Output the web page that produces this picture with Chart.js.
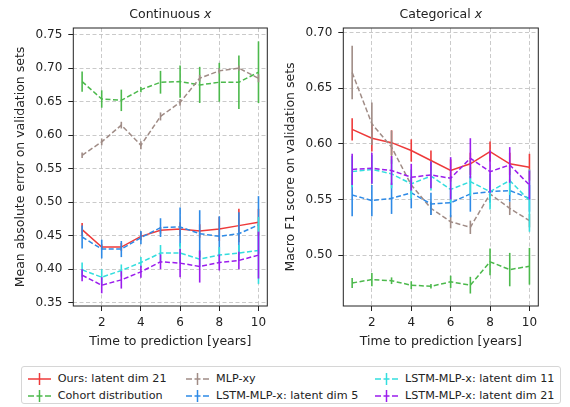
<!DOCTYPE html>
<html>
<head>
<meta charset="utf-8">
<script src="https://cdn.jsdelivr.net/npm/chart.js@4.4.0/dist/chart.umd.min.js"></script>
<style>
body { margin: 0; width: 570px; height: 407px; background: #fff; position: relative; overflow: hidden; font-family: 'DejaVu Sans'; }
#c1 { position: absolute; left: 0; top: 0; }
#c2 { position: absolute; left: 280px; top: 0; }
.legend { position: absolute; left: 21px; top: 366px; width: 538px; height: 36px; border: 1px solid #d6d6d6; border-radius: 3px; font-size: 11.2px; color: #222; }
.item { position: absolute; height: 16px; line-height: 16px; white-space: nowrap; }
.item svg { position: absolute; left: 0; top: 0; }
.item span { position: absolute; left: 30px; top: 0; }
</style>
</head>
<body>
<canvas id="c1" width="280" height="360"></canvas>
<canvas id="c2" width="290" height="360"></canvas>
<div class="legend" id="legend"></div>
<script>
var years = [1, 2, 3, 4, 5, 6, 7, 8, 9, 10];
var xTicks = [2, 4, 6, 8, 10];
var maeTicks = [0.35, 0.40, 0.45, 0.50, 0.55, 0.60, 0.65, 0.70, 0.75];
var f1Ticks = [0.50, 0.55, 0.60, 0.65, 0.70];

var names = ['Ours: latent dim 21', 'Cohort distribution', 'MLP-xy',
    'LSTM-MLP-x: latent dim 5', 'LSTM-MLP-x: latent dim 11', 'LSTM-MLP-x: latent dim 21'];
var colors = ['#ee3a3a', '#4cb94c', '#a08c86', '#2e8ae6', '#33dede', '#9b1ded'];

// continuous x - mean absolute error
var oursMae = [0.459, 0.433, 0.433, 0.449, 0.458, 0.460, 0.457, 0.460, 0.465, 0.470];
var oursMaeErr = [0.010, 0.004, 0.006, 0.006, 0.005, 0.010, 0.010, 0.018, 0.025, 0.020];
var cohortMae = [0.680, 0.654, 0.652, 0.668, 0.679, 0.680, 0.675, 0.679, 0.679, 0.694];
var cohortMaeErr = [0.015, 0.013, 0.016, 0.004, 0.017, 0.024, 0.027, 0.029, 0.040, 0.046];
var mlpMae = [0.570, 0.590, 0.615, 0.585, 0.628, 0.649, 0.685, 0.696, 0.700, 0.685];
var mlpMaeErr = [0.004, 0.005, 0.005, 0.006, 0.006, 0.005, 0.005, 0.004, 0.004, 0.006];
var lstm5Mae = [0.448, 0.430, 0.430, 0.447, 0.462, 0.463, 0.453, 0.449, 0.453, 0.466];
var lstm5MaeErr = [0.017, 0.014, 0.012, 0.010, 0.014, 0.029, 0.035, 0.030, 0.032, 0.043];
var lstm11Mae = [0.399, 0.388, 0.398, 0.410, 0.424, 0.424, 0.415, 0.421, 0.424, 0.428];
var lstm11MaeErr = [0.011, 0.012, 0.009, 0.008, 0.012, 0.015, 0.012, 0.012, 0.012, 0.050];
var lstm21Mae = [0.391, 0.376, 0.384, 0.396, 0.411, 0.409, 0.404, 0.410, 0.413, 0.421];
var lstm21MaeErr = [0.009, 0.012, 0.013, 0.009, 0.011, 0.021, 0.024, 0.012, 0.013, 0.035];

// categorical x - macro F1
var oursF1 = [0.613, 0.605, 0.601, 0.594, 0.585, 0.576, 0.582, 0.593, 0.582, 0.579];
var oursF1Err = [0.010, 0.012, 0.011, 0.010, 0.009, 0.010, 0.010, 0.009, 0.010, 0.012];
var cohortF1 = [0.475, 0.478, 0.477, 0.473, 0.472, 0.476, 0.473, 0.494, 0.487, 0.490];
var cohortF1Err = [0.0045, 0.006, 0.003, 0.0035, 0.002, 0.0055, 0.0075, 0.012, 0.015, 0.0165];
var mlpF1 = [0.664, 0.618, 0.597, 0.563, 0.542, 0.530, 0.525, 0.555, 0.542, 0.531];
var mlpF1Err = [0.024, 0.019, 0.015, 0.006, 0.006, 0.006, 0.006, 0.006, 0.006, 0.006];
var lstm5F1 = [0.554, 0.549, 0.551, 0.556, 0.546, 0.547, 0.555, 0.557, 0.558, 0.551];
var lstm5F1Err = [0.019, 0.014, 0.014, 0.014, 0.010, 0.013, 0.016, 0.010, 0.010, 0.012];
var lstm11F1 = [0.575, 0.577, 0.573, 0.564, 0.571, 0.559, 0.566, 0.557, 0.567, 0.549];
var lstm11F1Err = [0.014, 0.013, 0.013, 0.013, 0.013, 0.012, 0.013, 0.016, 0.013, 0.028];
var lstm21F1 = [0.577, 0.578, 0.576, 0.570, 0.572, 0.569, 0.587, 0.575, 0.581, 0.563];
var lstm21F1Err = [0.014, 0.014, 0.013, 0.012, 0.012, 0.019, 0.018, 0.019, 0.016, 0.013];

Chart.defaults.font.family = 'DejaVu Sans';
Chart.defaults.color = '#222';

// vertical error bars, drawn with each dataset
var errorBars = {
    id: 'errorBars',
    afterDatasetDraw: function (chart, args) {
        var ds = chart.data.datasets[args.index];
        if (!ds.err) return;
        var ctx = chart.ctx, xs = chart.scales.x, ys = chart.scales.y;
        ctx.save();
        ctx.strokeStyle = ds.borderColor;
        ctx.lineWidth = 1.6;
        ds.data.forEach(function (p, i) {
            var px = xs.getPixelForValue(p.x);
            ctx.beginPath();
            ctx.moveTo(px, ys.getPixelForValue(p.y - ds.err[i]));
            ctx.lineTo(px, ys.getPixelForValue(p.y + ds.err[i]));
            ctx.stroke();
        });
        ctx.restore();
    }
};

// box around plot + title with italic x
var frame = {
    id: 'frame',
    afterDraw: function (chart, args, opts) {
        var a = chart.chartArea, ctx = chart.ctx;
        ctx.save();
        ctx.strokeStyle = '#222';
        ctx.lineWidth = 1;
        ctx.strokeRect(a.left, a.top, a.right - a.left, a.bottom - a.top);
        ctx.fillStyle = '#222';
        ctx.textBaseline = 'middle';
        ctx.font = '12.5px "DejaVu Sans"';
        var w1 = ctx.measureText(opts.text).width;
        ctx.font = 'italic 12.5px "DejaVu Sans"';
        var w2 = ctx.measureText('x').width;
        var x0 = (a.left + a.right) / 2 - (w1 + w2) / 2;
        ctx.font = '12.5px "DejaVu Sans"';
        ctx.fillText(opts.text, x0, 15);
        ctx.font = 'italic 12.5px "DejaVu Sans"';
        ctx.fillText('x', x0 + w1, 15);
        ctx.restore();
    }
};

function makeSets(values, errs) {
    return values.map(function (v, k) {
        return {
            label: names[k],
            data: years.map(function (y, i) { return {x: y, y: v[i]}; }),
            err: errs[k],
            borderColor: colors[k],
            backgroundColor: colors[k],
            borderWidth: 1.5,
            borderDash: k == 0 ? [] : [5, 2.5],
            pointRadius: 0,
            tension: 0,
            order: 6 - k
        };
    });
}

function makeChart(id, sets, yMin, yMax, yTicks, yLabel, title, yWidth, padRight, yTitlePad) {
    var grid = {
        color: '#bdbdbd',
        lineWidth: 0.8,
        tickLength: 5,
        tickColor: '#222',
        tickWidth: 1,
        tickBorderDash: []
    };
    return new Chart(document.getElementById(id), {
        type: 'line',
        data: {datasets: sets},
        plugins: [errorBars, frame],
        options: {
            responsive: false,
            animation: false,
            events: [],
            layout: {padding: {left: 0, right: padRight, top: 28, bottom: 0}},
            plugins: {
                legend: {display: false},
                tooltip: {enabled: false},
                frame: {text: title + ' '}
            },
            scales: {
                x: {
                    type: 'linear',
                    min: 0.55,
                    max: 10.45,
                    afterBuildTicks: function (s) { s.ticks = xTicks.map(function (v) { return {value: v}; }); },
                    afterFit: function (s) { s.height = 54; },
                    ticks: {font: {size: 12}, padding: 4.8, maxRotation: 0, callback: function (v) { return v; }},
                    grid: grid,
                    border: {display: false, dash: [4, 2.5]},
                    title: {display: true, text: 'Time to prediction [years]', font: {size: 12.5}, padding: {top: 0, bottom: 10.8}}
                },
                y: {
                    type: 'linear',
                    min: yMin,
                    max: yMax,
                    afterBuildTicks: function (s) { s.ticks = yTicks.map(function (v) { return {value: v}; }); },
                    afterFit: function (s) { s.width = yWidth; },
                    ticks: {font: {size: 12}, padding: 6, callback: function (v) { return v.toFixed(2); }},
                    grid: grid,
                    border: {display: false, dash: [4, 2.5]},
                    title: {display: true, text: yLabel, font: {size: 12.5}, padding: {top: yTitlePad, bottom: 0}}
                }
            }
        }
    });
}

makeChart('c1',
    makeSets([oursMae, cohortMae, mlpMae, lstm5Mae, lstm11Mae, lstm21Mae],
        [oursMaeErr, cohortMaeErr, mlpMaeErr, lstm5MaeErr, lstm11MaeErr, lstm21MaeErr]),
    0.345, 0.760, maeTicks, 'Mean absolute error on validation sets', 'Continuous', 73.3, 12.7, 13.2);

makeChart('c2',
    makeSets([oursF1, cohortF1, mlpF1, lstm5F1, lstm11F1, lstm21F1],
        [oursF1Err, cohortF1Err, mlpF1Err, lstm5F1Err, lstm11F1Err, lstm21F1Err]),
    0.4543, 0.704, f1Ticks, 'Macro F1 score on validation sets', 'Categorical', 63.3, 31.7, 3);

// legend, three columns like the original
var slots = [[5.7, 3.7], [5.7, 21], [164, 3.7], [164, 21], [353, 3.7], [353, 21]];
var legend = document.getElementById('legend');
names.forEach(function (n, k) {
    var dash = k == 0 ? '' : ' stroke-dasharray="6 2.5"';
    var div = document.createElement('div');
    div.className = 'item';
    div.style.left = slots[k][0] + 'px';
    div.style.top = slots[k][1] + 'px';
    div.innerHTML = '<svg width="24" height="16"><line x1="0" y1="8" x2="23" y2="8" stroke="' + colors[k] + '" stroke-width="1.5"' + dash + '/>' +
        '<line x1="11.5" y1="2" x2="11.5" y2="14" stroke="' + colors[k] + '" stroke-width="1.5"/></svg><span>' + n + '</span>';
    legend.appendChild(div);
});
</script>
</body>
</html>
